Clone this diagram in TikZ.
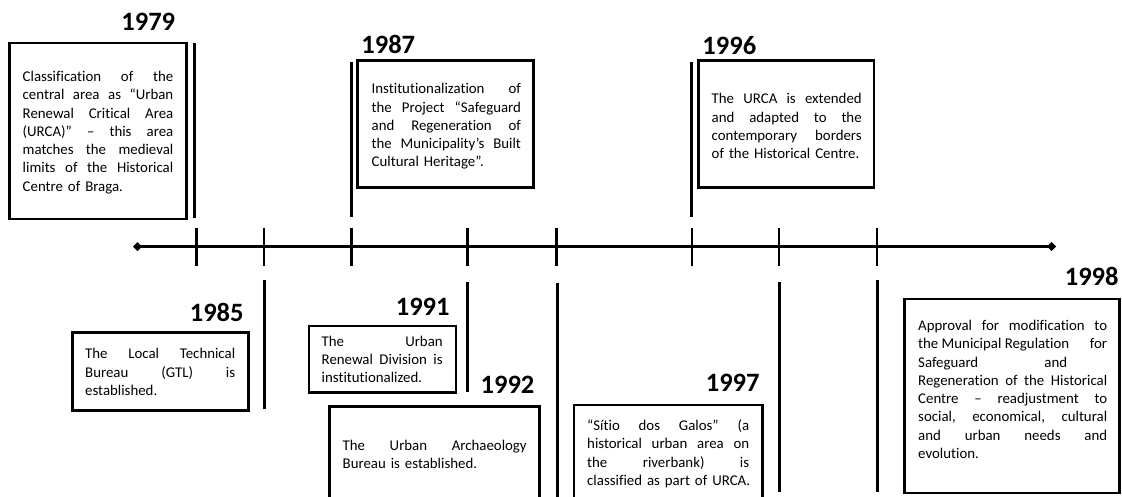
\documentclass[tikz,border=0pt]{standalone}
\usepackage{fontspec}
\setmainfont{Carlito}[Ligatures=NoCommon]
\usetikzlibrary{arrows.meta}
% text sizes: event descriptions and year captions
\newcommand\bodyfont{\fontsize{14.85pt}{18.3pt}\selectfont}
\newcommand\yearfont{\fontsize{26.5pt}{30pt}\selectfont\bfseries}
% a fully justified line of a description, stretched to the text width
\newcommand\jline[1]{\noindent\hbox to\evw{\spaceskip=0pt\xspaceskip=0pt #1}\par}
% the closing line of a description, set at its natural width
\newcommand\eline[1]{\noindent\mbox{#1}}
\begin{document}
\begin{tikzpicture}[x=1pt,y=-1pt,
  evbox/.style={draw, line width=2.8pt, rectangle, inner sep=0pt},
  evtext/.style={inner sep=0pt, font=\bodyfont, anchor=base west,
    text width=#1, execute at begin node={\def\evw{#1}}},
  year/.style={font=\yearfont, inner sep=0pt, anchor=base},
  stem/.style={line width=3pt},
  tickmark/.style={line width=2.2pt},
  axis/.style={line width=2.2pt, {Diamond[length=9pt,width=9pt]}-{Diamond[length=9pt,width=9pt]}}]
\useasboundingbox (0,0) rectangle (1122,496);
\clip (0,0) rectangle (1122,496);

% ---------- time axis ----------
\coordinate (axis-w) at (133,246.5);
\coordinate (axis-e) at (1056,246.5);
\draw[axis] (axis-w) -- (axis-e);
\foreach \tx in {196.5,264,351.5,467.5,556.5,692,779.3,877}
  \draw[tickmark] (\tx,227.5) -- (\tx,266);

% ---------- stems ----------
\draw[stem] (194.5,43) -- (194.5,218);
\draw[stem] (351,61.5) -- (351,216.5);
\draw[stem] (691.7,61.5) -- (691.7,216.5);
\draw[stem] (264,280) -- (264,409);
\draw[stem] (467.5,282) -- (467.5,391.5);
\draw[stem] (557,282.5) -- (557,500);
\draw[stem] (779.3,282) -- (779.3,492);
\draw[stem] (877,280) -- (877,492);

% ---------- events above the axis ----------
\node[year] (y1979) at (148.3,30) {1979};
\node[evbox, minimum width=177.4pt, minimum height=176pt] (e1979) at (98,131) {};
\node[evtext=150.6pt] (t1979) at (22.5,81.4) {%
  \jline{Classification of the}
  \jline{central area as “Urban}
  \jline{Renewal Critical Area}
  \jline{(URCA)” – this area}
  \jline{matches the medieval}
  \jline{limits of the Historical}
  \eline{Centre of Braga.}};

\node[year] (y1987) at (388.3,53.5) {1987};
\node[evbox, minimum width=176pt, minimum height=126.6pt] (e1987) at (445.3,124) {};
\node[evtext=149.3pt] (t1987) at (371.5,93.7) {%
  \jline{Institutionalization of}
  \jline{the Project “Safeguard}
  \jline{and Regeneration of}
  \jline{the Municipality’s Built}
  \eline{Cultural Heritage”.}};

\node[year] (y1996) at (729.3,54.5) {1996};
\node[evbox, minimum width=175.7pt, minimum height=126.6pt] (e1996) at (786.2,124) {};
\node[evtext=150pt] (t1996) at (711.5,103.7) {%
  \jline{The URCA is extended}
  \jline{and adapted to the}
  \jline{contemporary borders}
  \eline{of the Historical Centre.}};

% ---------- events below the axis ----------
\node[year] (y1985) at (216.7,321.7) {1985};
\node[evbox, minimum width=176pt, minimum height=78.4pt] (e1985) at (160.3,371.5) {};
\node[evtext=150pt] (t1985) at (85,358.7) {%
  \jline{The Local Technical}
  \jline{Bureau (GTL) is}
  \eline{established.}};

\node[year] (y1991) at (422.7,315) {1991};
\node[evbox, minimum width=147pt, minimum height=66.7pt] (e1991) at (382.5,359.3) {};
\node[evtext=121pt] (t1991) at (321.5,346.1) {%
  \jline{The Urban}
  \jline{Renewal Division is}
  \eline{institutionalized.}};

\node[year] (y1992) at (507.5,393.3) {1992};
\node[evbox, minimum width=210pt, minimum height=93.6pt] (e1992) at (434.3,453.5) {};
\node[evtext=184pt] (t1992) at (342.5,450.4) {%
  \jline{The Urban Archaeology}
  \eline{Bureau is established.}};

\node[year] (y1997) at (732.7,391.7) {1997};
\node[evbox, minimum width=188.7pt, minimum height=94pt] (e1997) at (668.3,452) {};
\node[evtext=162pt] (t1997) at (587,430.4) {%
  \jline{“Sítio dos Galos” (a}
  \jline{historical urban area on}
  \jline{the riverbank) is}
  \eline{classified as part of URCA.}};

\node[year] (y1998) at (1091.7,285) {1998};
\node[evbox, minimum width=215pt, minimum height=194pt] (e1998) at (1011.8,396) {};
\node[evtext=189pt] (t1998) at (918,330.4) {%
  \jline{Approval for modification to}
  \jline{the Municipal Regulation\hfill for}
  \jline{Safeguard\hfill and\hspace{40pt}}
  \jline{Regeneration of the Historical}
  \jline{Centre – readjustment to}
  \jline{social, economical, cultural}
  \jline{and urban needs and}
  \eline{evolution.}};
\end{tikzpicture}
\end{document}
